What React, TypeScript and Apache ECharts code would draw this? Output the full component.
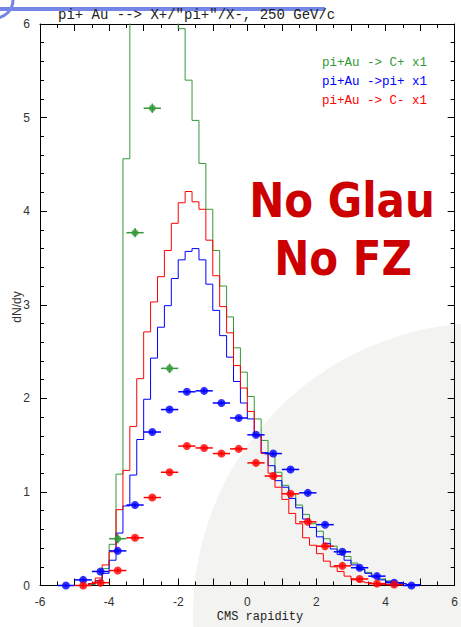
import React, { useEffect, useRef } from "react";
import * as echarts from "echarts";

// ---- data ----
const BIN_WIDTH = 0.2;
const HIST_START = -4.6;

// histogram values per 0.2 bin of rapidity, starting at HIST_START
const histCPlus = [
  0.01, 0.05, 0.18, 0.44, 1.19, 4.56, 6.6, 7.1, 7.5, 7.7, 7.6, 7.2, 6.6, 5.95,
  5.4, 4.97, 4.51, 4.02, 3.58, 3.2, 2.87, 2.54, 2.28, 2.02, 1.78, 1.55, 1.4,
  1.21, 1.07, 0.98, 0.86, 0.76, 0.66, 0.58, 0.5, 0.42, 0.37, 0.31, 0.24, 0.18,
  0.14, 0.1, 0.07, 0.05, 0.03, 0.02, 0.01,
];
const histPiPlus = [
  0.02, 0.05, 0.13, 0.27, 0.56, 0.85, 1.18, 1.56, 1.99, 2.43, 2.76, 2.99, 3.28,
  3.48, 3.57, 3.6, 3.48, 3.22, 2.94, 2.67, 2.44, 2.18, 1.95, 1.78, 1.6, 1.42,
  1.28, 1.12, 1.05, 0.93, 0.83, 0.71, 0.62, 0.52, 0.45, 0.39, 0.33, 0.27, 0.22,
  0.17, 0.13, 0.09, 0.06, 0.04, 0.03, 0.02, 0.01, 0.01,
];
const histCMinus = [
  0.02, 0.08, 0.22, 0.36, 0.81, 1.23, 1.7, 2.21, 2.71, 3.03, 3.3, 3.58, 3.87,
  4.09, 4.21, 4.1, 4.02, 3.69, 3.31, 2.98, 2.7, 2.35, 2.11, 1.86, 1.61, 1.41,
  1.2, 1.05, 0.92, 0.77, 0.66, 0.51, 0.43, 0.34, 0.26, 0.2, 0.15, 0.1, 0.06,
  0.04, 0.03, 0.02, 0.01, 0.01, 0.01,
];

// measured points (rapidity, dN/dy)
const ptsCPlusX = [-3.75, -3.25, -2.75, -2.25];
const ptsCPlusY = [0.5, 3.77, 5.1, 2.32];
const ptsPiPlusX = [
  -5.25, -4.75, -4.25, -3.75, -3.25, -2.75, -2.25, -1.75, -1.25, -0.75, -0.25,
  0.25, 0.75, 1.25, 1.75, 2.25, 2.75, 3.25, 3.75, 4.25, 4.75,
];
const ptsPiPlusY = [
  0.0, 0.06, 0.15, 0.37, 0.86, 1.64, 1.88, 2.07, 2.08, 1.95, 1.79, 1.61, 1.41,
  1.24, 0.99, 0.65, 0.36, 0.19, 0.1, 0.03, 0.0,
];
const ptsCMinusX = [
  -4.75, -4.25, -3.75, -3.25, -2.75, -2.25, -1.75, -1.25, -0.75, -0.25, 0.25,
  0.75, 1.25, 1.75, 2.25, 2.75, 3.25, 3.75, 4.25,
];
const ptsCMinusY = [
  0.0, 0.03, 0.16, 0.51, 0.94, 1.21, 1.49, 1.47, 1.41, 1.46, 1.31, 1.17, 0.98,
  0.68, 0.42, 0.21, 0.07, 0.02, 0.01,
];
const X_ERR = 0.25;

const legendLabels = ["pi+Au -> C+ x1", "pi+Au ->pi+ x1", "pi+Au -> C- x1"];
const titleText = 'pi+ Au --> X+/"pi+"/X-, 250 GeV/c';

const GREEN = "#35993a";
const BLUE = "#0000ff";
const RED = "#ff0000";

function histPath(start: number, vals: number[]): number[][] {
  const pts: number[][] = [[start, 0]];
  vals.forEach((v, i) => {
    const lo = +(start + i * BIN_WIDTH).toFixed(3);
    const hi = +(start + (i + 1) * BIN_WIDTH).toFixed(3);
    pts.push([lo, v], [hi, v]);
  });
  pts.push([+(start + vals.length * BIN_WIDTH).toFixed(3), 0]);
  return pts;
}

function errData(xs: number[], ys: number[], ey: number): number[][] {
  return xs.map((x, i) => [x, ys[i], X_ERR, ey]);
}

function errSeries(data: number[][], color: string) {
  return {
    type: "custom",
    clip: false,
    z: 5,
    data,
    encode: { x: 0, y: 1 },
    renderItem: (_p: any, api: any) => {
      const x = api.value(0);
      const y = api.value(1);
      const ex = api.value(2);
      const ey = api.value(3);
      const l = api.coord([x - ex, y]);
      const r = api.coord([x + ex, y]);
      const t = api.coord([x, y + ey]);
      const b = api.coord([x, y - ey]);
      return {
        type: "group",
        children: [
          {
            type: "line",
            shape: { x1: l[0], y1: l[1], x2: r[0], y2: r[1] },
            style: { stroke: color, lineWidth: 1.5 },
          },
          {
            type: "line",
            shape: { x1: t[0], y1: t[1], x2: b[0], y2: b[1] },
            style: { stroke: color, lineWidth: 1.5 },
          },
        ],
      };
    },
  };
}

function pointSeries(xs: number[], ys: number[], color: string, size: number) {
  return {
    type: "scatter",
    clip: false,
    z: 6,
    symbol: "circle",
    symbolSize: size,
    itemStyle: { color },
    data: xs.map((x, i) => [x, ys[i]]),
  };
}

function histSeries(vals: number[], color: string) {
  return {
    type: "line",
    showSymbol: false,
    symbol: "none",
    clip: true,
    z: 3,
    lineStyle: { color, width: 1 },
    data: histPath(HIST_START, vals),
  };
}

const tickFont = "'Liberation Sans', Arial, sans-serif";
const monoFont = "'Liberation Mono', 'DejaVu Sans Mono', monospace";

function axisCommon(labels: boolean, isX: boolean) {
  return {
    type: "value",
    min: isX ? -6 : 0,
    max: 6,
    interval: 1,
    axisLine: { show: true, onZero: false, lineStyle: { color: "#000", width: 1 } },
    axisTick: { show: true, inside: true, length: 7, lineStyle: { color: "#000", width: 1 } },
    minorTick: {
      show: true,
      splitNumber: isX ? 2 : 5,
      length: 4,
      lineStyle: { color: "#000", width: 1 },
    },
    splitLine: { show: false },
    minorSplitLine: { show: false },
    axisLabel: labels
      ? {
          show: true,
          color: "#333",
          fontSize: 12,
          fontFamily: tickFont,
          margin: 10,
          formatter: (v: number) => (isX ? (Math.round(v) % 2 === 0 ? String(v) : "") : String(v)),
        }
      : { show: false },
  };
}

export default function App() {
  const ref = useRef<HTMLDivElement>(null);
  useEffect(() => {
    if (!ref.current) return;
    const chart = echarts.init(ref.current, undefined, { renderer: "svg" });
    const legendColors = [GREEN, BLUE, RED];
    chart.setOption({
      animation: false,
      backgroundColor: "#ffffff",
      grid: { left: 40, top: 24, width: 417, height: 561.5, containLabel: false },
      xAxis: [
        { ...axisCommon(true, true), position: "bottom" },
        { ...axisCommon(false, true), position: "top" },
      ],
      yAxis: [
        { ...axisCommon(true, false), position: "left" },
        { ...axisCommon(false, false), position: "right" },
      ],
      graphic: [
        {
          type: "circle",
          z: -10,
          silent: true,
          shape: { cx: 485, cy: 615, r: 292 },
          style: { fill: "#f3f3f1" },
        },
        {
          type: "rect",
          z: -9,
          silent: true,
          shape: { x: 0, y: 7, width: 325, height: 4 },
          style: { fill: "#7486e6" },
        },
        {
          type: "arc",
          z: -9,
          silent: true,
          shape: { cx: -5, cy: 0, r: 18, startAngle: 0, endAngle: Math.PI / 2, clockwise: true },
          style: { stroke: "#7486e6", lineWidth: 3, fill: "none" },
        },
        {
          type: "text",
          z: 50,
          x: 58,
          y: 15,
          style: {
            text: titleText,
            fill: "#222",
            font: `14px ${monoFont}`,
            textAlign: "left",
            textVerticalAlign: "middle",
          },
        },
        ...legendLabels.map((t, i) => ({
          type: "text",
          z: 50,
          x: 322,
          y: 63 + i * 19,
          style: {
            text: t,
            fill: legendColors[i],
            font: `12.5px ${monoFont}`,
            textAlign: "left",
            textVerticalAlign: "middle",
          },
        })),
        {
          type: "text",
          z: 50,
          x: 260,
          y: 617,
          style: {
            text: "CMS rapidity",
            fill: "#222",
            font: `12px ${monoFont}`,
            textAlign: "center",
            textVerticalAlign: "middle",
          },
        },
        {
          type: "text",
          z: 50,
          x: 17,
          y: 307,
          rotation: Math.PI / 2,
          style: {
            text: "dN/dy",
            fill: "#333",
            font: `12px ${tickFont}`,
            textAlign: "center",
            textVerticalAlign: "middle",
          },
        },
        {
          type: "text",
          z: 50,
          x: 342,
          y: 200,
          scaleY: 1.15,
          style: {
            text: "No Glau",
            fill: "#cc0000",
            font: "bold 42px 'DejaVu Sans', sans-serif",
            textAlign: "center",
            textVerticalAlign: "middle",
          },
        },
        {
          type: "text",
          z: 50,
          x: 343,
          y: 258,
          scaleY: 1.15,
          style: {
            text: "No FZ",
            fill: "#cc0000",
            font: "bold 42px 'DejaVu Sans', sans-serif",
            textAlign: "center",
            textVerticalAlign: "middle",
          },
        },
      ],
      series: [
        histSeries(histCPlus, GREEN),
        histSeries(histPiPlus, BLUE),
        histSeries(histCMinus, RED),
        errSeries(errData(ptsCPlusX, ptsCPlusY, 0.05), GREEN),
        errSeries(errData(ptsPiPlusX, ptsPiPlusY, 0.02), BLUE),
        errSeries(errData(ptsCMinusX, ptsCMinusY, 0.02), RED),
        pointSeries(ptsCPlusX, ptsCPlusY, GREEN, 7),
        pointSeries(ptsPiPlusX, ptsPiPlusY, BLUE, 8),
        pointSeries(ptsCMinusX, ptsCMinusY, RED, 8),
      ],
    });
    return () => chart.dispose();
  }, []);
  return (
    <div
      ref={ref}
      style={{ position: "fixed", left: 0, top: 0, width: 461, height: 627 }}
    />
  );
}
